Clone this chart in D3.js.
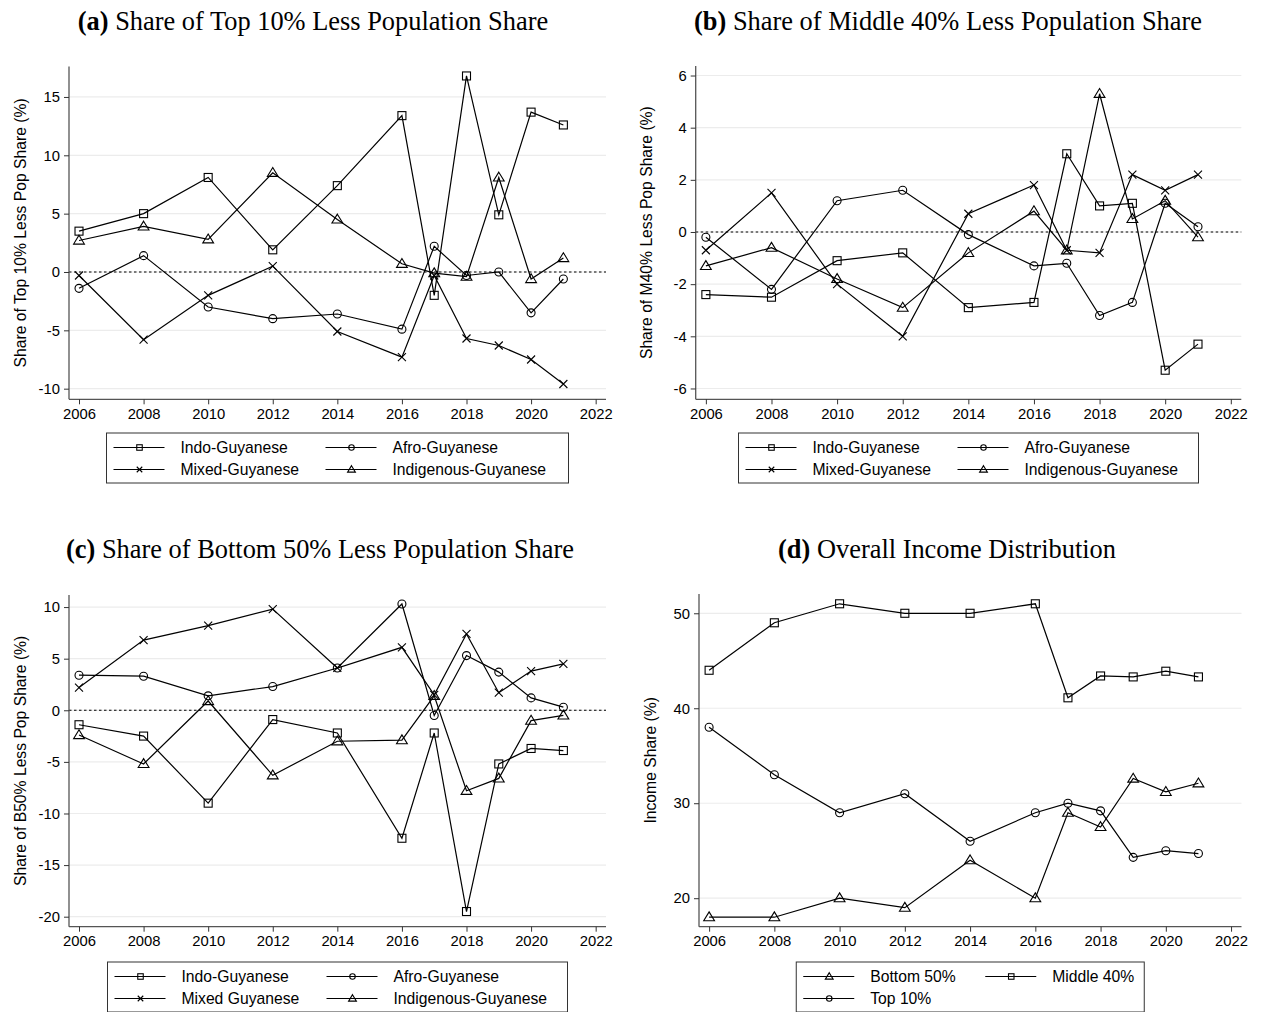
<!DOCTYPE html>
<html><head><meta charset="utf-8">
<script src="https://cdn.jsdelivr.net/npm/d3@7"></script>
<style>body{margin:0;background:#fff}</style>
</head><body>
<svg id="c" width="1263" height="1012"></svg>
<script>
const years = [2006, 2008, 2010, 2012, 2014, 2016, 2017, 2018, 2019, 2020, 2021];
const xTicks = [2006, 2008, 2010, 2012, 2014, 2016, 2018, 2020, 2022];

// (a) Top 10% less population share
const aIndo  = [3.5, 5.0, 8.1, 1.9, 7.4, 13.4, -2.0, 16.8, 4.9, 13.7, 12.6];
const aAfro  = [-1.4, 1.4, -3.0, -4.0, -3.6, -4.9, 2.2, -0.3, 0.0, -3.5, -0.6];
const aMixed = [-0.3, -5.8, -2.0, 0.5, -5.1, -7.3, -0.3, -5.7, -6.3, -7.5, -9.6];
const aIndig = [2.7, 3.9, 2.8, 8.5, 4.5, 0.7, -0.1, -0.4, 8.1, -0.6, 1.2];
const aTicks = [-10, -5, 0, 5, 10, 15];

// (b) Middle 40% less population share
const bIndo  = [-2.4, -2.5, -1.1, -0.8, -2.9, -2.7, 3.0, 1.0, 1.1, -5.3, -4.3];
const bAfro  = [-0.2, -2.2, 1.2, 1.6, -0.1, -1.3, -1.2, -3.2, -2.7, 1.1, 0.2];
const bMixed = [-0.7, 1.5, -2.0, -4.0, 0.7, 1.8, -0.7, -0.8, 2.2, 1.6, 2.2];
const bIndig = [-1.3, -0.6, -1.8, -2.9, -0.8, 0.8, -0.7, 5.3, 0.5, 1.2, -0.2];
const bTicks = [-6, -4, -2, 0, 2, 4, 6];

// (c) Bottom 50% less population share
const cIndo  = [-1.4, -2.5, -9.0, -0.9, -2.2, -12.4, -2.2, -19.5, -5.2, -3.7, -3.9];
const cAfro  = [3.4, 3.3, 1.4, 2.3, 4.1, 10.3, -0.5, 5.3, 3.7, 1.2, 0.3];
const cMixed = [2.2, 6.8, 8.2, 9.8, 4.1, 6.1, 1.5, 7.4, 1.7, 3.8, 4.5];
const cIndig = [-2.4, -5.2, 0.9, -6.3, -3.0, -2.9, 1.4, -7.8, -6.6, -1.0, -0.5];
const cTicks = [-20, -15, -10, -5, 0, 5, 10];

// (d) Overall income distribution
const dBottom50 = [18, 18, 20, 19, 24, 20, 29, 27.5, 32.6, 31.2, 32.1];
const dMiddle40 = [44, 49, 51, 50, 50, 51, 41.1, 43.4, 43.3, 43.9, 43.3];
const dTop10    = [38, 33, 29, 31, 26, 29, 30, 29.2, 24.3, 25.0, 24.7];
const dTicks = [20, 30, 40, 50];

const svg = d3.select("#c");
const SANS = "'Liberation Sans', Arial, sans-serif";
const SERIF = "'Liberation Serif', 'Times New Roman', serif";

function marker(g, type, x, y, s) {
  const st = {fill: "none", stroke: "#000", "stroke-width": 1.1};
  let el;
  if (type === "square") {
    el = g.append("rect").attr("x", x - s/2).attr("y", y - s/2).attr("width", s).attr("height", s);
  } else if (type === "circle") {
    el = g.append("circle").attr("cx", x).attr("cy", y).attr("r", s/2);
  } else if (type === "triangle") {
    const h = s * 0.95;
    el = g.append("path").attr("d", `M${x},${y - h*0.62} L${x + s*0.6},${y + h*0.42} L${x - s*0.6},${y + h*0.42} Z`);
  } else {
    const r = s/2;
    el = g.append("path").attr("d", `M${x-r},${y-r} L${x+r},${y+r} M${x-r},${y+r} L${x+r},${y-r}`);
  }
  for (const k in st) el.attr(k, st[k]);
}

function panel(cfg) {
  const g = svg.append("g");
  const x = d3.scaleLinear().domain([2005.69, 2022.32]).range(cfg.xr);
  const y = d3.scaleLinear().domain(cfg.yd).range(cfg.yr);
  // grid
  g.selectAll("line.grid").data(cfg.ticks).join("line")
    .attr("x1", cfg.xr[0]).attr("x2", cfg.xr[1])
    .attr("y1", d => y(d)).attr("y2", d => y(d))
    .attr("stroke", "#ececec").attr("stroke-width", 1.2);
  // zero line
  if (cfg.zero) {
    g.append("line").attr("x1", cfg.xr[0]).attr("x2", cfg.xr[1])
      .attr("y1", y(0)).attr("y2", y(0))
      .attr("stroke", "#000").attr("stroke-width", 1.1).attr("stroke-dasharray", "2.5,2.5");
  }
  // axes
  const ya = d3.axisLeft(y).tickValues(cfg.ticks).tickSize(5).tickPadding(4).tickFormat(d => String(d).replace("−", "-"));
  const yg = g.append("g").attr("transform", `translate(${cfg.xr[0]},0)`).call(ya);
  const xa = d3.axisBottom(x).tickValues(xTicks).tickSize(5).tickPadding(4).tickFormat(d3.format("d"));
  const xg = g.append("g").attr("transform", `translate(0,${cfg.yr[0]})`).call(xa);
  for (const ax of [yg, xg]) {
    ax.select(".domain").attr("stroke", "#555").attr("stroke-width", 1.3);
    ax.selectAll(".tick line").attr("stroke", "#333").attr("stroke-width", 1);
    ax.selectAll(".tick text").attr("font-family", SANS).attr("font-size", 14.8).attr("fill", "#000");
  }
  yg.select(".domain").attr("d", `M-0,${cfg.yr[0]}V${cfg.yr[1]}`);
  xg.select(".domain").attr("d", `M${cfg.xr[0]},0H${cfg.xr[1]}`);
  // y title
  g.append("text").attr("transform", `translate(${cfg.xr[0] - 49},${(cfg.yr[0] + cfg.yr[1]) / 2}) rotate(-90)`)
    .attr("text-anchor", "middle").attr("dominant-baseline", "central")
    .attr("font-family", SANS).attr("font-size", 15.7).text(cfg.ytitle);
  // title
  const t = g.append("text").attr("x", cfg.titleX).attr("y", cfg.titleY)
    .attr("text-anchor", "middle").attr("font-family", SERIF).attr("font-size", 26.4);
  t.append("tspan").attr("font-weight", "bold").text(cfg.tag);
  t.append("tspan").text(" " + cfg.title);
  // series
  const line = d3.line().x((d, i) => x(years[i])).y(d => y(d));
  cfg.series.forEach(s => {
    g.append("path").datum(s.values).attr("d", line).attr("fill", "none")
      .attr("stroke", "#000").attr("stroke-width", 1.2);
  });
  cfg.series.forEach(s => {
    s.values.forEach((v, i) => marker(g, s.m, x(years[i]), y(v), s.m === "circle" ? 8 : (s.m === "triangle" ? 9 : 8)));
  });
  // legend
  const lw = cfg.legend.w, lh = 50;
  const cx = (cfg.xr[0] + cfg.xr[1]) / 2;
  const lx = cx - lw / 2, ly = cfg.legend.y;
  const lg = g.append("g");
  lg.append("rect").attr("x", lx).attr("y", ly).attr("width", lw).attr("height", lh)
    .attr("fill", "#fff").attr("stroke", "#333").attr("stroke-width", 1);
  cfg.legend.items.forEach((it, i) => {
    const col = i % 2, row = Math.floor(i / 2);
    const x0 = lx + 7 + col * cfg.legend.colW;
    const yy = ly + 14.5 + row * 22;
    lg.append("line").attr("x1", x0).attr("x2", x0 + 51).attr("y1", yy).attr("y2", yy)
      .attr("stroke", "#000").attr("stroke-width", 1.1);
    marker(lg, it.m, x0 + 26, yy, it.m === "triangle" ? 6.5 : 5.5);
    lg.append("text").attr("x", x0 + 67).attr("y", yy).attr("dominant-baseline", "central")
      .attr("font-family", SANS).attr("font-size", 15.7).text(it.label);
  });
}

const ethLegend = (mixedLabel) => [
  {m: "square", label: "Indo-Guyanese"}, {m: "circle", label: "Afro-Guyanese"},
  {m: "x", label: mixedLabel}, {m: "triangle", label: "Indigenous-Guyanese"}];

panel({xr: [69, 606], yr: [399.3, 66.5], yd: [-10.91, 17.61], ticks: aTicks, zero: true,
  ytitle: "Share of Top 10% Less Pop Share (%)", tag: "(a)", title: "Share of Top 10% Less Population Share", titleX: 313, titleY: 30,
  series: [{values: aIndo, m: "square"}, {values: aAfro, m: "circle"}, {values: aMixed, m: "x"}, {values: aIndig, m: "triangle"}],
  legend: {w: 462, y: 433, colW: 212, items: ethLegend("Mixed-Guyanese")}});

panel({xr: [695.7, 1241.3], yr: [399.3, 66], yd: [-6.415, 6.365], ticks: bTicks, zero: true,
  ytitle: "Share of M40% Less Pop Share (%)", tag: "(b)", title: "Share of Middle 40% Less Population Share", titleX: 948, titleY: 30,
  series: [{values: bIndo, m: "square"}, {values: bAfro, m: "circle"}, {values: bMixed, m: "x"}, {values: bIndig, m: "triangle"}],
  legend: {w: 460, y: 433, colW: 212, items: ethLegend("Mixed-Guyanese")}});

panel({xr: [69, 606], yr: [926.7, 595], yd: [-20.97, 11.17], ticks: cTicks, zero: true,
  ytitle: "Share of B50% Less Pop Share (%)", tag: "(c)", title: "Share of Bottom 50% Less Population Share", titleX: 320, titleY: 558,
  series: [{values: cIndo, m: "square"}, {values: cAfro, m: "circle"}, {values: cMixed, m: "x"}, {values: cIndig, m: "triangle"}],
  legend: {w: 460, y: 962, colW: 212, items: ethLegend("Mixed Guyanese")}});

panel({xr: [699, 1241.5], yr: [926.7, 594], yd: [17.0, 52.03], ticks: dTicks, zero: false,
  ytitle: "Income Share (%)", tag: "(d)", title: "Overall Income Distribution", titleX: 947, titleY: 558,
  series: [{values: dBottom50, m: "triangle"}, {values: dMiddle40, m: "square"}, {values: dTop10, m: "circle"}],
  legend: {w: 348, y: 962, colW: 182, items: [{m: "triangle", label: "Bottom 50%"}, {m: "square", label: "Middle 40%"}, {m: "circle", label: "Top 10%"}]}});
</script>
</body></html>
